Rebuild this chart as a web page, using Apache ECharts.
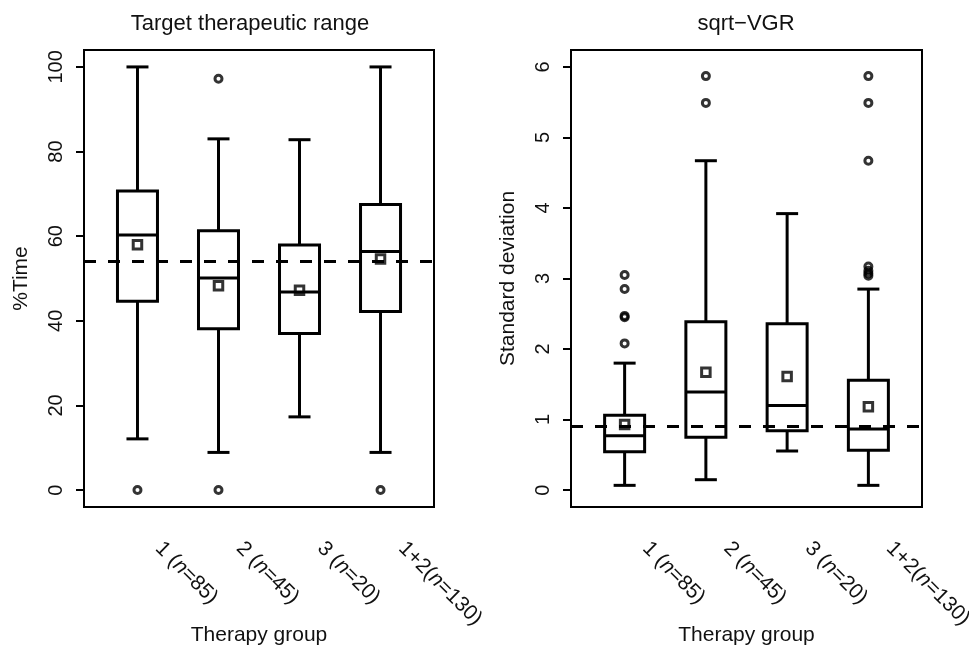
<!DOCTYPE html>
<html>
<head>
<meta charset="utf-8">
<script src="https://cdn.jsdelivr.net/npm/echarts@6/dist/echarts.min.js"></script>
<style>html,body{margin:0;padding:0;background:#fff;}#chart{width:969px;height:649px;}</style>
</head>
<body>
<div id="chart"></div>
<script>
// ---- data ----
const groupPos = [1, 2, 3, 4];
const groupPrefix = ['1 ', '2 ', '3 ', '1+2'];
const groupN = [85, 45, 20, 130];

// Target therapeutic range (%Time)
const ttrMin = [12.1, 8.9, 17.3, 8.9];
const ttrQ1 = [44.6, 38.1, 37.0, 42.2];
const ttrMedian = [60.3, 50.1, 46.8, 56.4];
const ttrQ3 = [70.7, 61.3, 57.9, 67.5];
const ttrMax = [100, 83.0, 82.8, 100];
const ttrMean = [58.0, 48.3, 47.2, 54.6];
const ttrOutlierGroup = [1, 2, 2, 4];
const ttrOutlierValue = [0, 97.2, 0, 0];
const ttrRef = 54.0;
const ttrTicks = [0, 20, 40, 60, 80, 100];

// sqrt-VGR (standard deviation)
const vgrMin = [0.067, 0.147, 0.554, 0.067];
const vgrQ1 = [0.545, 0.75, 0.84, 0.563];
const vgrMedian = [0.77, 1.39, 1.20, 0.866];
const vgrQ3 = [1.06, 2.385, 2.36, 1.557];
const vgrMax = [1.80, 4.67, 3.92, 2.85];
const vgrMean = [0.93, 1.67, 1.61, 1.18];
const vgrOutlierGroup = [1, 1, 1, 1, 1, 2, 2, 4, 4, 4, 4, 4, 4, 4];
const vgrOutlierValue = [3.05, 2.85, 2.47, 2.45, 2.08, 5.87, 5.49, 5.87, 5.49, 4.67, 3.17, 3.11, 3.07, 3.04];
const vgrRef = 0.914;
const vgrTicks = [0, 1, 2, 3, 4, 5, 6];

// ---- chart ----
const FONT = 'Liberation Sans';
const INK = '#111';
const chart = echarts.init(document.getElementById('chart'), null, {renderer: 'canvas'});

function boxData(mn, q1, md, q3, mx) {
  return groupPos.map((x, i) => [x, mn[i], q1[i], md[i], q3[i], mx[i]]);
}
function renderBox(params, api) {
  const x = api.value(0);
  const pMin = api.coord([x, api.value(1)]);
  const pQ1 = api.coord([x, api.value(2)]);
  const pMed = api.coord([x, api.value(3)]);
  const pQ3 = api.coord([x, api.value(4)]);
  const pMax = api.coord([x, api.value(5)]);
  const cx = pMed[0], hw = 20, cw = 11;
  const st = {stroke: '#000', lineWidth: 3, fill: null};
  const line = (x1, y1, x2, y2) => ({type: 'line', shape: {x1, y1, x2, y2}, style: st});
  return {
    type: 'group',
    children: [
      {type: 'rect', shape: {x: cx - hw, y: pQ3[1], width: 2 * hw, height: pQ1[1] - pQ3[1]}, style: st},
      line(cx - hw, pMed[1], cx + hw, pMed[1]),
      line(cx, pQ3[1], cx, pMax[1]),
      line(cx, pQ1[1], cx, pMin[1]),
      line(cx - cw, pMax[1], cx + cw, pMax[1]),
      line(cx - cw, pMin[1], cx + cw, pMin[1])
    ]
  };
}
function pairs(xs, ys) { return xs.map((x, i) => [x, ys[i]]); }

const rich = {
  r: {fontFamily: FONT, fontSize: 21, color: INK},
  i: {fontFamily: FONT, fontSize: 21, color: INK, fontStyle: 'italic'}
};
function xLabel(v) {
  const i = Math.round(v) - 1;
  return '{r|' + groupPrefix[i] + '(}{i|n}{r|=' + groupN[i] + ')}';
}

function xAxisFor(gridIndex) {
  return {
    type: 'value', gridIndex, min: 0.34, max: 4.66,
    name: 'Therapy group', nameLocation: 'middle', nameGap: 118, nameMoveOverlap: false,
    nameTextStyle: {fontFamily: FONT, fontSize: 21, color: INK},
    axisLine: {show: false}, axisTick: {show: false}, splitLine: {show: false},
    axisLabel: {
      customValues: groupPos, rotate: -45, margin: 17, padding: [0, 0, 0, 30],
      formatter: xLabel, rich: rich, fontFamily: FONT, fontSize: 21, color: INK
    }
  };
}
function yAxisFor(gridIndex, name, min, max, ticks) {
  return {
    type: 'value', gridIndex, min, max,
    name, nameLocation: 'middle', nameGap: 52, nameMoveOverlap: false,
    nameTextStyle: {fontFamily: FONT, fontSize: 21, color: INK},
    axisLine: {show: false}, splitLine: {show: false},
    axisTick: {show: true, customValues: ticks, length: 8, lineStyle: {color: '#000', width: 2}},
    axisLabel: {customValues: ticks, rotate: 90, margin: 18, fontFamily: FONT, fontSize: 20, color: INK}
  };
}
const refLine = (v) => ({
  symbol: 'none', silent: true, label: {show: false},
  lineStyle: {color: '#000', width: 3, type: [12, 12]},
  data: [{yAxis: v}]
});
const meanStyle = {color: 'rgba(0,0,0,0)', borderColor: '#000', borderWidth: 3};
const outStyle = {color: 'rgba(0,0,0,0)', borderColor: '#000', borderWidth: 3};

chart.setOption({
  animation: false,
  backgroundColor: '#fff',
  graphic: [
    {type: 'text', x: 250, y: 24, style: {text: 'Target therapeutic range', fontFamily: FONT, fontSize: 22, fill: INK, textAlign: 'center', textVerticalAlign: 'middle'}},
    {type: 'text', x: 746, y: 24, style: {text: 'sqrt\u2212VGR', fontFamily: FONT, fontSize: 22, fill: INK, textAlign: 'center', textVerticalAlign: 'middle'}}
  ],
  grid: [
    {left: 84, top: 50, width: 350, height: 457, show: true, borderColor: '#000', borderWidth: 2, backgroundColor: 'transparent', containLabel: false, outerBoundsMode: 'none'},
    {left: 571, top: 50, width: 351, height: 457, show: true, borderColor: '#000', borderWidth: 2, backgroundColor: 'transparent', containLabel: false, outerBoundsMode: 'none'}
  ],
  xAxis: [xAxisFor(0), xAxisFor(1)],
  yAxis: [
    yAxisFor(0, '%Time', -4, 104, ttrTicks),
    yAxisFor(1, 'Standard deviation', -0.24, 6.24, vgrTicks)
  ],
  series: [
    {type: 'custom', xAxisIndex: 0, yAxisIndex: 0, renderItem: renderBox,
     data: boxData(ttrMin, ttrQ1, ttrMedian, ttrQ3, ttrMax), encode: {x: 0, y: [1, 2, 3, 4, 5]},
     markLine: refLine(ttrRef)},
    {type: 'scatter', xAxisIndex: 0, yAxisIndex: 0, symbol: 'rect', symbolSize: 8.5,
     itemStyle: meanStyle, data: pairs(groupPos, ttrMean)},
    {type: 'scatter', xAxisIndex: 0, yAxisIndex: 0, symbol: 'circle', symbolSize: 7,
     itemStyle: outStyle, data: pairs(ttrOutlierGroup, ttrOutlierValue)},

    {type: 'custom', xAxisIndex: 1, yAxisIndex: 1, renderItem: renderBox,
     data: boxData(vgrMin, vgrQ1, vgrMedian, vgrQ3, vgrMax), encode: {x: 0, y: [1, 2, 3, 4, 5]},
     markLine: refLine(vgrRef)},
    {type: 'scatter', xAxisIndex: 1, yAxisIndex: 1, symbol: 'rect', symbolSize: 8.5,
     itemStyle: meanStyle, data: pairs(groupPos, vgrMean)},
    {type: 'scatter', xAxisIndex: 1, yAxisIndex: 1, symbol: 'circle', symbolSize: 7,
     itemStyle: outStyle, data: pairs(vgrOutlierGroup, vgrOutlierValue)}
  ]
});
</script>
</body>
</html>
